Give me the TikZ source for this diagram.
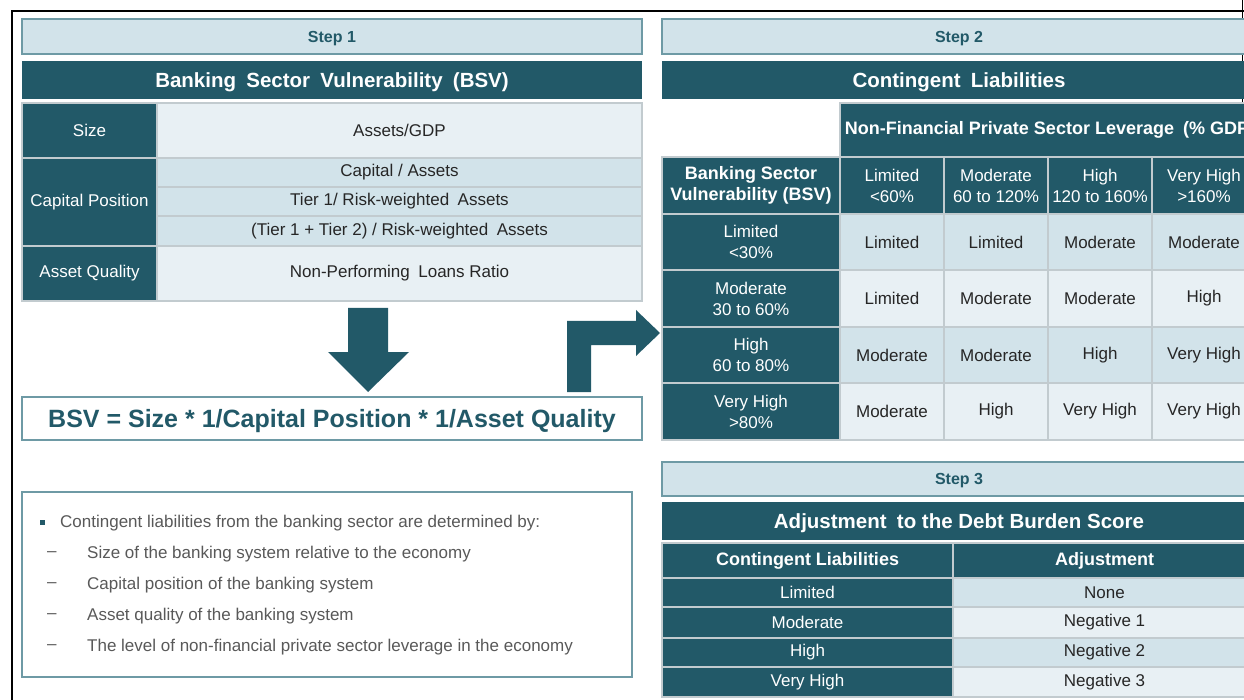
\documentclass[tikz,border=0pt]{standalone}
\usepackage{fontspec}
\setmainfont{Liberation Sans}
\definecolor{dark}{HTML}{225968}
\definecolor{lb}{HTML}{D2E3EA}
\definecolor{vl}{HTML}{E8F0F4}
\definecolor{stepb}{HTML}{6E9AA5}
\definecolor{gridc}{HTML}{C2CBCF}
\definecolor{txt}{HTML}{262626}
\definecolor{gtxt}{HTML}{595959}
\newcommand\wsp{\hspace{0.5em}}
\newcommand\cell[7]{\node[#6, minimum width={(#4)-(#2)}, minimum height={(#5)-(#3)}] (#1) at ({((#2)+(#4))/2},{((#3)+(#5))/2}) {#7};}
\tikzset{
  cellbase/.style={rectangle, inner sep=0pt, outer sep=0pt, draw=gridc, line width=1.2pt, align=center, font=\fontsize{17}{21}\selectfont},
  dk/.style={cellbase, fill=dark, text=white},
  dkb/.style={dk, font=\fontsize{18}{21}\selectfont\bfseries},
  lbc/.style={cellbase, fill=lb, text=txt},
  vlc/.style={cellbase, fill=vl, text=txt},
  hdr/.style={rectangle, inner sep=0pt, outer sep=0pt, text depth=0pt, fill=dark, text=white, font=\fontsize{20.5}{24}\selectfont\bfseries},
  stepbox/.style={rectangle, inner sep=0pt, text depth=0pt, fill=lb, draw=stepb, line width=1.5pt, text=dark, font=\fontsize{16}{19}\selectfont\bfseries},
  formula/.style={rectangle, inner sep=0pt, text depth=0pt, fill=white, draw=stepb, line width=1.2pt, text=dark, font=\fontsize{25}{28}\selectfont\bfseries},
  notebox/.style={rectangle, inner sep=0pt, fill=white, draw=stepb, line width=1.2pt},
  note/.style={anchor=west, inner sep=0pt, text=gtxt, font=\fontsize{17}{20}\selectfont},
  blockarrow/.style={fill=dark},
}
\begin{document}
\begin{tikzpicture}[x=1pt,y=-1pt]
\clip (0,0) rectangle (1244,700);
\fill[white] (0,0) rectangle (1244,700);
% frame
\draw[line width=2pt] (12,700) -- (12,11.5) -- (1244,11.5);
\draw[line width=1.2pt] (1242.6,0) -- (1242.6,440);

% ---------- Step 1 ----------
\cell{s1}{22}{19}{642}{54}{stepbox}{Step 1}
\cell{bsvh}{22}{61}{642}{99}{hdr}{Banking\wsp Sector\wsp Vulnerability\wsp (BSV)}
\cell{sz}{22}{103}{157}{158}{dk}{Size}
\cell{szv}{157}{103}{642}{158}{vlc}{Assets/GDP}
\cell{cp}{22}{158}{157}{246}{dk}{Capital Position}
\cell{cp1}{157}{158}{642}{187}{lbc}{Capital / Assets}
\cell{cp2}{157}{187}{642}{216}{lbc}{Tier 1/ Risk-weighted\wsp Assets}
\cell{cp3}{157}{216}{642}{246}{lbc}{(Tier 1 + Tier 2) / Risk-weighted\wsp Assets}
\cell{aq}{22}{246}{157}{301}{dk}{Asset Quality}
\cell{aqv}{157}{246}{642}{301}{vlc}{Non-Performing\wsp Loans Ratio}

% down arrow
\fill[blockarrow] (348,308) -- (388,308) -- (388,352) -- (409,352) -- (368,392) -- (328,352) -- (348,352) -- cycle;
% bent arrow
\fill[blockarrow] (567,392) -- (567,321) -- (636,321) -- (636,310) -- (660,333) -- (636,356) -- (636,345) -- (591,345) -- (591,392) -- cycle;

\cell{bsvf}{22}{397}{642}{440}{formula}{BSV = Size * 1/Capital Position * 1/Asset Quality}

% notes
\cell{notes}{22}{492}{632}{677}{notebox}{}
\node[fill=dark, minimum size=5.5pt, inner sep=0pt] (blt) at (42.5,522.5) {};
\node[note] (n1) at (60,523) {Contingent liabilities from the banking sector are determined by:};
\node[note] (d2) at (47,554) {–};
\node[note] (n2) at (87,554) {Size of the banking system relative to the economy};
\node[note] (d3) at (47,585) {–};
\node[note] (n3) at (87,585) {Capital position of the banking system};
\node[note] (d4) at (47,616) {–};
\node[note] (n4) at (87,616) {Asset quality of the banking system};
\node[note] (d5) at (47,647) {–};
\node[note] (n5) at (87,647) {The level of non-financial private sector leverage in the economy};

% ---------- Step 2 ----------
\cell{s2}{662}{19}{1256}{54}{stepbox}{Step 2}
\cell{clh}{662}{61}{1256}{99}{hdr}{Contingent\wsp Liabilities}
\cell{nfh}{840}{103}{1260}{157}{dkb}{Non-Financial Private Sector Leverage\wsp (\% GDP)}
\cell{bsvl}{662}{157}{840}{214}{dkb}{Banking Sector\\Vulnerability (BSV)}
\cell{ch1}{840}{157}{944}{214}{dk}{Limited\\<60\%}
\cell{ch2}{944}{157}{1048}{214}{dk}{Moderate\\60 to 120\%}
\cell{ch3}{1048}{157}{1152}{214}{dk}{High\\120 to 160\%}
\cell{ch4}{1152}{157}{1256}{214}{dk}{Very High\\>160\%}

\cell{rh1}{662}{214}{840}{270}{dk}{Limited\\<30\%}
\cell{m11}{840}{214}{944}{270}{lbc}{Limited}
\cell{m12}{944}{214}{1048}{270}{lbc}{Limited}
\cell{m13}{1048}{214}{1152}{270}{lbc}{Moderate}
\cell{m14}{1152}{214}{1256}{270}{lbc}{Moderate}

\cell{rh2}{662}{270}{840}{327}{dk}{Moderate\\30 to 60\%}
\cell{m21}{840}{270}{944}{327}{vlc}{Limited}
\cell{m22}{944}{270}{1048}{327}{vlc}{Moderate}
\cell{m23}{1048}{270}{1152}{327}{vlc}{Moderate}
\cell{m24}{1152}{270}{1256}{327}{vlc}{High}

\cell{rh3}{662}{327}{840}{383}{dk}{High\\60 to 80\%}
\cell{m31}{840}{327}{944}{383}{lbc}{Moderate}
\cell{m32}{944}{327}{1048}{383}{lbc}{Moderate}
\cell{m33}{1048}{327}{1152}{383}{lbc}{High}
\cell{m34}{1152}{327}{1256}{383}{lbc}{Very High}

\cell{rh4}{662}{383}{840}{440}{dk}{Very High\\>80\%}
\cell{m41}{840}{383}{944}{440}{vlc}{Moderate}
\cell{m42}{944}{383}{1048}{440}{vlc}{High}
\cell{m43}{1048}{383}{1152}{440}{vlc}{Very High}
\cell{m44}{1152}{383}{1256}{440}{vlc}{Very High}

% ---------- Step 3 ----------
\cell{s3}{662}{462}{1256}{496}{stepbox}{Step 3}
\cell{adh}{662}{502}{1256}{540}{hdr}{Adjustment\wsp to the Debt Burden Score}
\cell{t3a}{662}{543}{953}{578}{dkb}{Contingent Liabilities}
\cell{t3b}{953}{543}{1256}{578}{dkb}{Adjustment}
\cell{r1a}{662}{578}{953}{607}{dk}{Limited}
\cell{r1b}{953}{578}{1256}{607}{lbc}{None}
\cell{r2a}{662}{607}{953}{638}{dk}{Moderate}
\cell{r2b}{953}{607}{1256}{638}{vlc}{Negative 1}
\cell{r3a}{662}{638}{953}{667}{dk}{High}
\cell{r3b}{953}{638}{1256}{667}{lbc}{Negative 2}
\cell{r4a}{662}{667}{953}{697}{dk}{Very High}
\cell{r4b}{953}{667}{1256}{697}{vlc}{Negative 3}
\end{tikzpicture}
\end{document}
